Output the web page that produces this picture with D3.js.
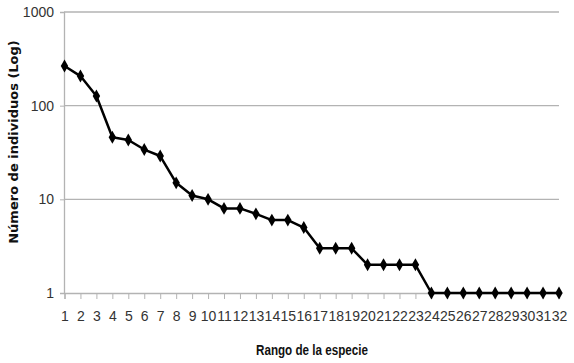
<!DOCTYPE html>
<html>
<head>
<meta charset="utf-8">
<script src="https://cdn.jsdelivr.net/npm/d3@7"></script>
<style>
  body { margin: 0; background: #fff; }
  .tick text { font-family: "Liberation Sans Narrow", "Liberation Sans", sans-serif; }
</style>
</head>
<body>
<div id="chart"></div>
<script>
var ranks = d3.range(1, 33);
var counts = [265, 207, 127, 46, 43, 34, 29, 15, 11, 10, 8, 8, 7, 6, 6, 5,
              3, 3, 3, 2, 2, 2, 2, 1, 1, 1, 1, 1, 1, 1, 1, 1];
var yTicks = [1, 10, 100, 1000];

var w = 574, h = 363;
var svg = d3.select("#chart").append("svg").attr("width", w).attr("height", h);

var x = d3.scaleLinear().domain([1, 32]).range([64.5, 559]);
var y = d3.scaleLog().domain([1, 1000]).range([293, 12]);

// gridlines
svg.append("g").selectAll("line")
  .data(yTicks.slice(1))
  .enter().append("line")
  .attr("x1", 64).attr("x2", 559)
  .attr("y1", function(d) { return y(d); })
  .attr("y2", function(d) { return y(d); })
  .attr("stroke", "#b3b3b3").attr("stroke-width", 1.3);

// y axis
var yAxis = d3.axisLeft(y).tickValues(yTicks).tickFormat(d3.format("d")).tickSize(4).tickPadding(6);
var gy = svg.append("g").attr("transform", "translate(64,0)").call(yAxis);
gy.select(".domain").attr("stroke", "#b3b3b3").attr("stroke-width", 1.3);
gy.selectAll(".tick line").attr("stroke", "#b3b3b3");
gy.selectAll(".tick text").attr("font-size", "14px").attr("fill", "#333");

// x axis
var xAxis = d3.axisBottom(x).tickValues(ranks).tickFormat(d3.format("d")).tickSize(6).tickPadding(12);
var gx = svg.append("g").attr("transform", "translate(0,293)").call(xAxis);
gx.select(".domain").attr("stroke", "#b3b3b3").attr("stroke-width", 1.3);
gx.selectAll(".tick line").attr("stroke", "#b3b3b3");
gx.selectAll(".tick text").attr("font-size", "14px").attr("fill", "#333");

// line
var line = d3.line()
  .x(function(d, i) { return x(ranks[i]); })
  .y(function(d) { return y(d); });
svg.append("path").datum(counts)
  .attr("d", line)
  .attr("fill", "none").attr("stroke", "#000").attr("stroke-width", 2.5)
  .attr("stroke-linejoin", "round");

// diamond markers
var diamond = d3.symbol().type(d3.symbolDiamond).size(48);
svg.append("g").selectAll("path")
  .data(counts)
  .enter().append("path")
  .attr("d", diamond)
  .attr("transform", function(d, i) { return "translate(" + x(ranks[i]) + "," + y(d) + ")"; })
  .attr("fill", "#000");

// titles
svg.append("text")
  .attr("x", 312).attr("y", 355)
  .attr("text-anchor", "middle")
  .attr("font-family", "Liberation Sans Narrow, Liberation Sans, sans-serif")
  .attr("font-weight", "bold").attr("font-size", "14px")
  .attr("textLength", 112).attr("lengthAdjust", "spacingAndGlyphs")
  .attr("fill", "#111")
  .text("Rango de la especie");

svg.append("text")
  .attr("transform", "translate(18,142) rotate(-90)")
  .attr("text-anchor", "middle")
  .attr("font-family", "DejaVu Sans, sans-serif")
  .attr("font-weight", "bold").attr("font-size", "13px")
  .attr("fill", "#111")
  .text("Número de individuos (Log)");
</script>
</body>
</html>
